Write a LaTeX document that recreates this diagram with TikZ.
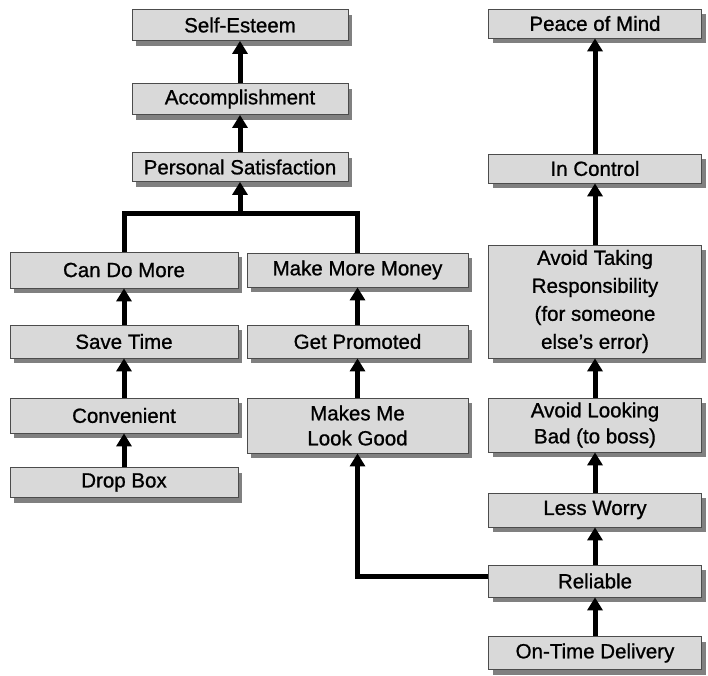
\documentclass[tikz,border=0pt]{standalone}
\usepackage{fontspec}
\setmainfont[RawFeature={embolden=0.9}]{Liberation Sans}
\usetikzlibrary{arrows.meta,shadows}
\begin{document}
\begin{tikzpicture}[x=1pt,y=-1pt,
  box/.style={draw=black!70, line width=0.8pt, fill=black!15, text=black,
    align=center, inner sep=0pt,
    font=\fontsize{20.5}{26}\selectfont,
    drop shadow={shadow xshift=4pt, shadow yshift=-5pt, fill=black!50, opacity=1}},
  link/.style={line width=5pt, draw=black},
  up/.style={link, -{Triangle[width=15pt,length=13pt]}}
]
\useasboundingbox (0,0) rectangle (708,675);

% top column
\node[box, minimum width=216pt, minimum height=31pt] (se)  at (240,25)  {Self-Esteem};
\node[box, minimum width=216pt, minimum height=31pt] (acc) at (240,99)  {Accomplishment};
\node[box, minimum width=216pt, minimum height=29pt] (ps)  at (240,167) {Personal Satisfaction};

% left column
\node[box, minimum width=228pt, minimum height=36pt] (cdm)  at (124,270)   {Can Do More};
\node[box, minimum width=228pt, minimum height=33pt] (st)   at (124,341.5) {Save Time};
\node[box, minimum width=228pt, minimum height=35pt] (conv) at (124,415.5) {Convenient};
\node[box, minimum width=228pt, minimum height=30pt] (db)   at (124,482.5) {Drop Box};

% middle column
\node[box, minimum width=221pt, minimum height=34pt] (mmm)  at (357.5,270)   {Make More Money};
\node[box, minimum width=221pt, minimum height=33pt] (gp)   at (357.5,341.5) {Get Promoted};
\node[box, minimum width=221pt, minimum height=55pt, font=\fontsize{20.5}{25}\selectfont] (mmlg) at (357.5,425.5) {Makes Me\\Look Good};

% right column
\node[box, minimum width=213pt, minimum height=29pt]  (pom) at (595,23.5)  {Peace of Mind};
\node[box, minimum width=213pt, minimum height=29pt]  (ic)  at (595,168.5) {In Control};
\node[box, minimum width=213pt, minimum height=113pt, font=\fontsize{20.5}{28}\selectfont] (atr) at (595,301.5)
  {Avoid Taking\\Responsibility\\(for someone\\else's error)};
\node[box, minimum width=213pt, minimum height=54pt]  (alb) at (595,425)   {Avoid Looking\\Bad (to boss)};
\node[box, minimum width=213pt, minimum height=34pt]  (lw)  at (595,510)   {Less Worry};
\node[box, minimum width=213pt, minimum height=32pt]  (rel) at (595,581)   {Reliable};
\node[box, minimum width=213pt, minimum height=33pt]  (otd) at (595,653)   {On-Time Delivery};

% connectors
\draw[up] (acc.north) -- (se.south);
\draw[up] (ps.north) -- (acc.south);

\coordinate (j) at (240,213);
\draw[link] (cdm.north) |- (j) -| (mmm.north);
\draw[up] (j) -- (ps.south);

\draw[up] (st.north) -- (cdm.south);
\draw[up] (conv.north) -- (st.south);
\draw[up] (db.north) -- (conv.south);

\draw[up] (gp.north) -- (mmm.south);
\draw[up] (mmlg.north) -- (gp.south);
\draw[up] ([yshift=5pt]rel.west) -| (mmlg.south);

\draw[up] (ic.north) -- (pom.south);
\draw[up] (atr.north) -- (ic.south);
\draw[up] (alb.north) -- (atr.south);
\draw[up] (lw.north) -- (alb.south);
\draw[up] (rel.north) -- (lw.south);
\draw[up] (otd.north) -- (rel.south);
\end{tikzpicture}
\end{document}
